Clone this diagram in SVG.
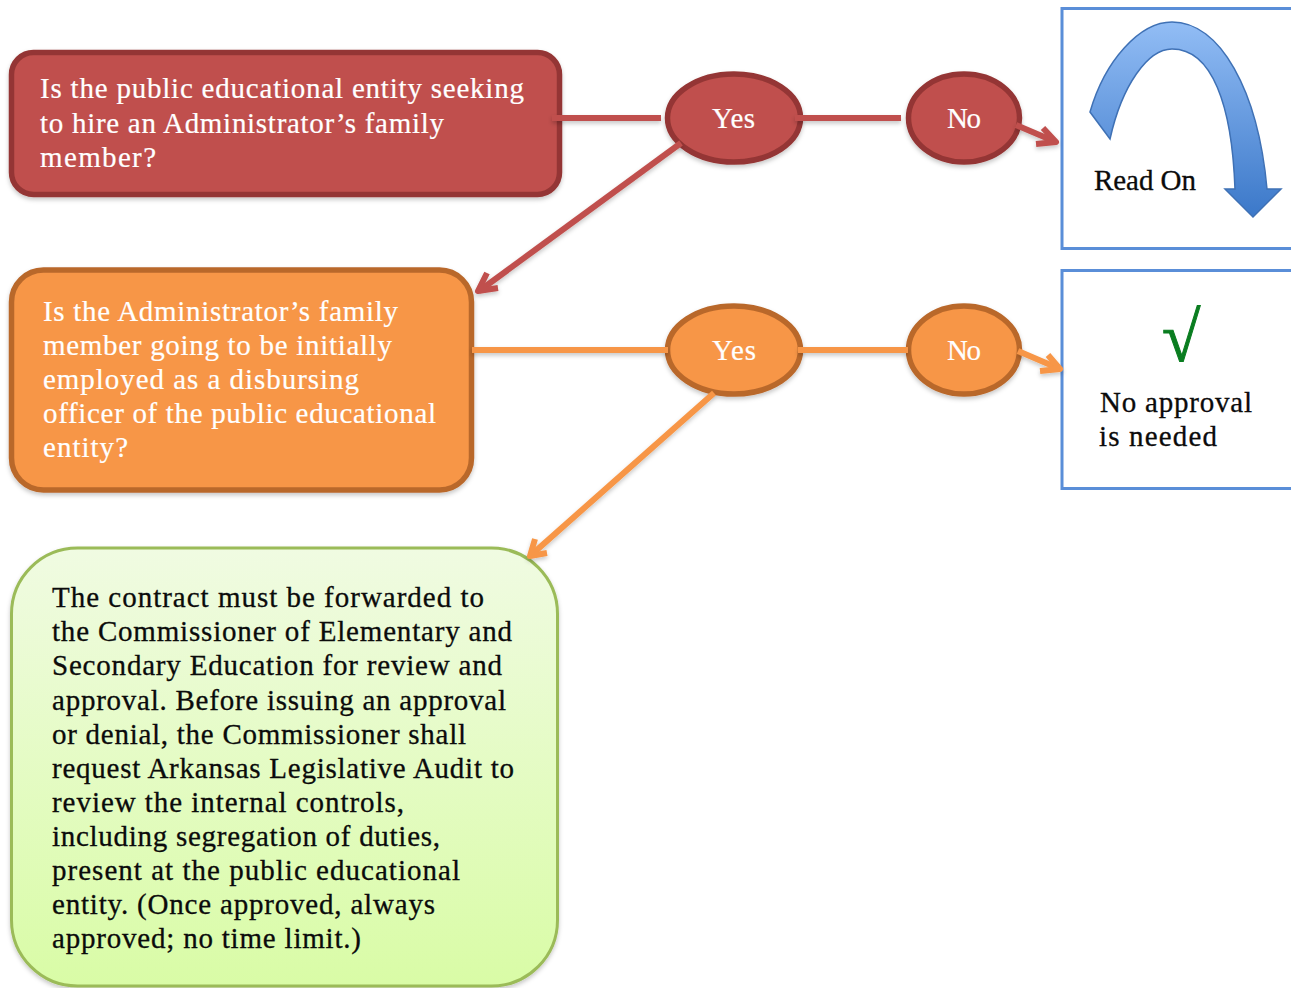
<svg xmlns="http://www.w3.org/2000/svg" width="1291" height="988" viewBox="0 0 1291 988">
<style>
text{font-family:"Liberation Serif","Times New Roman",serif;font-size:29px}
.w{fill:#fff;stroke:#fff;stroke-width:.2px}
.k{fill:#0b0b0b;stroke:#0b0b0b;stroke-width:.3px}
.red{fill:#c0504d;stroke:#943634;stroke-width:5.500}
.org{fill:#f79646;stroke:#b9682c;stroke-width:5.500}
.blue{fill:#fff;stroke:#5a8ed8;stroke-width:3}
.cr{fill:none;stroke:#c0504d;stroke-width:6;stroke-linejoin:round}
.co{fill:none;stroke:#f79646;stroke-width:6;stroke-linejoin:round}
.sh{filter:url(#s)}
</style>
<defs>
<linearGradient id="g" x1="0" y1="0" x2="0" y2="1"><stop offset="0" stop-color="#f0fbe2"/><stop offset="1" stop-color="#d9fca6"/></linearGradient>
<linearGradient id="a" x1="0" y1="0" x2="0" y2="1"><stop offset="0" stop-color="#92bdf5"/><stop offset="1" stop-color="#3b78c9"/></linearGradient>
<filter id="s" x="-10%" y="-10%" width="120%" height="130%"><feDropShadow dx="0" dy="2.500" stdDeviation="2" flood-color="#000" flood-opacity=".22"/></filter>
</defs>
<g id="q1">
<rect class="red sh" x="11.500" y="52.500" width="548" height="142" rx="22"/>
<text class="w" x="40" y="98" textLength="484">Is the public educational entity seeking</text>
<text class="w" x="40" y="133" textLength="404">to hire an Administrator’s family</text>
<text class="w" x="40" y="167" textLength="116">member?</text>
</g>
<g id="yes1"><ellipse class="red sh" cx="734" cy="118" rx="66.500" ry="44"/><text class="w" x="712" y="128" textLength="43">Yes</text></g>
<g id="no1"><ellipse class="red sh" cx="964" cy="118" rx="55.500" ry="44"/><text class="w" x="947" y="128" textLength="34">No</text></g>
<g id="readon">
<rect class="blue" x="1062" y="8.500" width="240" height="240"/>
<path d="M1090 112C1105 60 1140 22 1172 22C1220 22 1258 90 1267 189H1281L1253 217L1225 189H1235C1232 105 1212 49 1172 49C1148 49 1122 85 1110 139Z" fill="url(#a)" stroke="#3f71b5" stroke-width="1.500"/>
<text class="k" x="1094" y="190" textLength="102">Read On</text>
</g>
<g id="q2">
<rect class="org sh" x="11.500" y="270" width="460" height="220" rx="32"/>
<text class="w" x="43" y="321" textLength="355">Is the Administrator’s family</text>
<text class="w" x="43" y="355" textLength="349">member going to be initially</text>
<text class="w" x="43" y="389" textLength="316">employed as a disbursing</text>
<text class="w" x="43" y="423" textLength="393">officer of the public educational</text>
<text class="w" x="43" y="457" textLength="85">entity?</text>
</g>
<g id="yes2"><ellipse class="org sh" cx="734" cy="350" rx="66.500" ry="44"/><text class="w" x="712" y="360" textLength="44">Yes</text></g>
<g id="no2"><ellipse class="org sh" cx="964" cy="350" rx="55.500" ry="44"/><text class="w" x="947" y="360" textLength="34">No</text></g>
<g id="noapproval">
<rect class="blue" x="1062" y="270.500" width="240" height="218"/>
<text x="1162" y="361" style="font-size:70px;fill:#0a7d20;stroke:#0a7d20;stroke-width:1px">√</text>
<text class="k" x="1100" y="412" textLength="152">No approval</text>
<text class="k" x="1099" y="446" textLength="118">is needed</text>
</g>
<g id="result">
<rect class="sh" x="11.500" y="548" width="546" height="438" rx="66" fill="url(#g)" stroke="#9bbb59" stroke-width="3"/>
<text class="k" x="52" y="607" textLength="432">The contract must be forwarded to</text>
<text class="k" x="52" y="641" textLength="460">the Commissioner of Elementary and</text>
<text class="k" x="52" y="675" textLength="450">Secondary Education for review and</text>
<text class="k" x="52" y="710" textLength="454">approval. Before issuing an approval</text>
<text class="k" x="52" y="744" textLength="414">or denial, the Commissioner shall</text>
<text class="k" x="52" y="778" textLength="462">request Arkansas Legislative Audit to</text>
<text class="k" x="52" y="812" textLength="352">review the internal controls,</text>
<text class="k" x="52" y="846" textLength="388">including segregation of duties,</text>
<text class="k" x="52" y="880" textLength="408">present at the public educational</text>
<text class="k" x="52" y="914" textLength="383">entity. (Once approved, always</text>
<text class="k" x="52" y="948" textLength="309">approved; no time limit.)</text>
</g>
<g id="connectors" class="sh">
<path class="cr" d="M552 118H661"/>
<path class="cr" d="M795 118H901"/>
<path class="cr" d="M1016 125L1056 142"/>
<path class="cr" d="M1043 128L1056 142L1036 144"/>
<path class="cr" d="M681 143L479 291"/>
<path class="cr" d="M487 273L478 291L498 288"/>
<path class="co" d="M472 350H668"/>
<path class="co" d="M798 350H908"/>
<path class="co" d="M1018 351L1060 369"/>
<path class="co" d="M1048 355L1060 369L1040 371"/>
<path class="co" d="M714 393L530 556"/>
<path class="co" d="M535 539L530 556L547 553"/>
</g>
</svg>
